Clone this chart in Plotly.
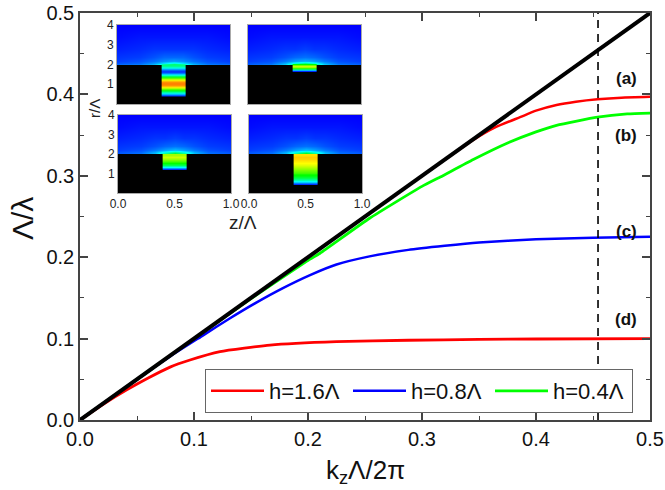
import plotly.graph_objects as go

light_k = [0.0, 0.5]
light_f = [0.0, 0.5]
a_k = [0.30, 0.345, 0.365, 0.386, 0.40, 0.418, 0.435, 0.454, 0.475, 0.5]
a_f = [0.30, 0.344, 0.360, 0.372, 0.380, 0.387, 0.391, 0.394, 0.396, 0.397]
b_k = [0.0, 0.05, 0.10, 0.15, 0.20, 0.2105, 0.254, 0.30, 0.316, 0.345, 0.3746, 0.40, 0.418, 0.454, 0.48, 0.5]
b_f = [0.0, 0.05, 0.10, 0.149, 0.196, 0.2048, 0.2478, 0.287, 0.2985, 0.32, 0.340, 0.354, 0.362, 0.372, 0.376, 0.377]
c_k = [0.0, 0.05, 0.08, 0.108, 0.1316, 0.155, 0.178, 0.2018, 0.225, 0.254, 0.288, 0.32, 0.35, 0.40, 0.45, 0.5]
c_f = [0.0, 0.05, 0.079, 0.104, 0.125, 0.1445, 0.162, 0.178, 0.191, 0.201, 0.209, 0.214, 0.218, 0.222, 0.224, 0.225]
d_k = [0.0, 0.02, 0.041, 0.059, 0.079, 0.0965, 0.1228, 0.1667, 0.225, 0.288, 0.35, 0.40, 0.5]
d_f = [0.0, 0.019, 0.037, 0.051, 0.065, 0.0737, 0.084, 0.092, 0.0962, 0.098, 0.099, 0.0995, 0.1]
marker_k = [0.4544, 0.4544]
marker_f = [0.0, 0.5]
legend_names = ["h=1.6Λ", "h=0.8Λ", "h=0.4Λ"]
curve_labels = ["(a)", "(b)", "(c)", "(d)"]
label_k = [0.479, 0.479, 0.479, 0.479]
label_f = [0.42, 0.349, 0.232, 0.123]

x_ticks = [0.0, 0.1, 0.2, 0.3, 0.4, 0.5]
x_ticktext = ["0.0", "0.1", "0.2", "0.3", "0.4", "0.5"]
minor_ticks = [0.05, 0.15, 0.25, 0.35, 0.45]

air_r = [2.02, 2.08, 2.2, 2.4, 2.8, 3.4, 4.0]
air_z = [0.0, 0.2, 0.33, 0.42, 0.5, 0.58, 0.67, 0.8, 1.0]
air_a = [
    [0.10, 0.12, 0.18, 0.30, 0.40, 0.30, 0.18, 0.12, 0.10],
    [0.08, 0.10, 0.15, 0.22, 0.28, 0.22, 0.15, 0.10, 0.08],
    [0.06, 0.08, 0.11, 0.14, 0.16, 0.14, 0.11, 0.08, 0.06],
    [0.05, 0.06, 0.08, 0.10, 0.10, 0.10, 0.08, 0.06, 0.05],
    [0.03, 0.04, 0.05, 0.05, 0.05, 0.05, 0.05, 0.04, 0.03],
    [0.01, 0.02, 0.02, 0.02, 0.02, 0.02, 0.02, 0.02, 0.01],
    [0.00, 0.00, 0.00, 0.00, 0.00, 0.00, 0.00, 0.00, 0.00],
]
air_b = [
    [0.09, 0.12, 0.20, 0.36, 0.50, 0.36, 0.20, 0.12, 0.09],
    [0.08, 0.10, 0.17, 0.28, 0.36, 0.28, 0.17, 0.10, 0.08],
    [0.06, 0.08, 0.12, 0.16, 0.18, 0.16, 0.12, 0.08, 0.06],
    [0.05, 0.06, 0.08, 0.10, 0.11, 0.10, 0.08, 0.06, 0.05],
    [0.03, 0.04, 0.05, 0.05, 0.06, 0.05, 0.05, 0.04, 0.03],
    [0.01, 0.02, 0.02, 0.02, 0.02, 0.02, 0.02, 0.02, 0.01],
    [0.00, 0.00, 0.00, 0.00, 0.00, 0.00, 0.00, 0.00, 0.00],
]
air_c = [
    [0.09, 0.12, 0.20, 0.38, 0.52, 0.38, 0.20, 0.12, 0.09],
    [0.08, 0.10, 0.17, 0.28, 0.36, 0.28, 0.17, 0.10, 0.08],
    [0.06, 0.08, 0.12, 0.16, 0.19, 0.16, 0.12, 0.08, 0.06],
    [0.05, 0.06, 0.08, 0.10, 0.11, 0.10, 0.08, 0.06, 0.05],
    [0.03, 0.04, 0.05, 0.05, 0.06, 0.05, 0.05, 0.04, 0.03],
    [0.01, 0.02, 0.02, 0.02, 0.02, 0.02, 0.02, 0.02, 0.01],
    [0.00, 0.00, 0.00, 0.00, 0.00, 0.00, 0.00, 0.00, 0.00],
]
air_d = [
    [0.09, 0.12, 0.20, 0.38, 0.55, 0.38, 0.20, 0.12, 0.09],
    [0.08, 0.10, 0.17, 0.28, 0.36, 0.28, 0.17, 0.10, 0.08],
    [0.06, 0.08, 0.12, 0.16, 0.19, 0.16, 0.12, 0.08, 0.06],
    [0.05, 0.06, 0.08, 0.10, 0.11, 0.10, 0.08, 0.06, 0.05],
    [0.03, 0.04, 0.05, 0.05, 0.06, 0.05, 0.05, 0.04, 0.03],
    [0.01, 0.02, 0.02, 0.02, 0.02, 0.02, 0.02, 0.02, 0.01],
    [0.00, 0.00, 0.00, 0.00, 0.00, 0.00, 0.00, 0.00, 0.00],
]
groove_z = [0.43, 0.5, 0.57]
groove_a_r = [0.45, 0.55, 0.65, 0.75, 0.85, 0.95, 1.05, 1.15, 1.25, 1.35, 1.45, 1.55, 1.65, 1.75, 1.85, 1.95]
groove_a_v = [0.05, 0.22, 0.38, 0.55, 0.72, 0.85, 0.88, 0.85, 0.72, 0.55, 0.35, 0.15, 0.04, 0.12, 0.28, 0.38]
groove_b_r = [1.65, 1.7, 1.75, 1.8, 1.85, 1.9, 1.95, 2.0]
groove_b_v = [0.03, 0.18, 0.40, 0.55, 0.65, 0.70, 0.62, 0.50]
groove_c_r = [1.25, 1.35, 1.45, 1.55, 1.65, 1.75, 1.85, 1.95]
groove_c_v = [0.05, 0.25, 0.42, 0.50, 0.58, 0.65, 0.70, 0.66]
groove_d_r = [0.45, 0.55, 0.65, 0.75, 0.85, 0.95, 1.05, 1.15, 1.25, 1.35, 1.45, 1.55, 1.65, 1.75, 1.85, 1.95]
groove_d_v = [0.05, 0.20, 0.33, 0.42, 0.48, 0.52, 0.56, 0.60, 0.64, 0.68, 0.72, 0.75, 0.77, 0.79, 0.80, 0.78]

FONT = "Liberation Sans"
W, H = 665, 490
L, R, T, B = 80, 650, 13, 420
AX = "#444444"
SCALE = [[0, "#0000ff"], [0.25, "#00ffff"], [0.5, "#00ff00"], [0.75, "#ffff00"], [1, "#ff0000"]]

fig = go.Figure()

def line(x, y, c, w, **kw):
    return go.Scatter(x=x, y=y, mode="lines", line=dict(color=c, width=w, shape="spline", smoothing=0.5),
                      hoverinfo="skip", **kw)

fig.add_trace(line(a_k, a_f, "#ff0000", 2.5, name=legend_names[0], showlegend=True))
fig.add_trace(line(c_k, c_f, "#0000ff", 2.5, name=legend_names[1], showlegend=True))
fig.add_trace(line(b_k, b_f, "#00ff00", 2.8, name=legend_names[2], showlegend=True))
fig.add_trace(line(d_k, d_f, "#ff0000", 2.8, showlegend=False))
fig.add_trace(line(light_k, light_f, "#000000", 4, showlegend=False))
fig.add_trace(go.Scatter(x=marker_k, y=marker_f, mode="lines", showlegend=False, hoverinfo="skip",
                         line=dict(color="#000000", width=1.6, dash="8px,6px")))

panels = [
    (air_a, groove_a_r, groove_a_v, (117, 230), (25, 104), False, True),
    (air_b, groove_b_r, groove_b_v, (248, 361), (25, 104), False, False),
    (air_c, groove_c_r, groove_c_v, (118, 231), (115, 193), True, True),
    (air_d, groove_d_r, groove_d_v, (249, 362), (115, 193), True, False),
]
layout_axes = {}
shapes = []
for i, (air, gr, gv, xp, yp, show_x, show_y) in enumerate(panels):
    n = i + 2
    xa, ya = f"x{n}", f"y{n}"
    shapes.append(dict(type="rect", xref=xa, yref=ya, x0=0, x1=1, y0=0, y1=2.02, fillcolor="#000000",
                       line=dict(width=0), layer="below"))
    fig.add_trace(go.Heatmap(x=air_z, y=air_r, z=air, xaxis=xa, yaxis=ya, colorscale=SCALE, zmin=0, zmax=1,
                             zsmooth="best", showscale=False, hoverinfo="skip"))
    fig.add_trace(go.Heatmap(x=groove_z, y=gr, z=[[v, v, v] for v in gv], xaxis=xa, yaxis=ya, colorscale=SCALE,
                             zmin=0, zmax=1, zsmooth="best", showscale=False, hoverinfo="skip"))
    layout_axes[f"xaxis{n}"] = dict(
        domain=[xp[0] / W, xp[1] / W], anchor=ya, range=[0, 1], tickvals=[0, 0.5, 1], automargin=False,
        ticktext=["0.0", "0.5", "1.0"], showticklabels=show_x, ticks="", showgrid=False, zeroline=False,
        showline=True, mirror=True, linecolor="#aaaaaa", linewidth=1, tickfont=dict(family=FONT, size=12, color="#222222"))
    layout_axes[f"yaxis{n}"] = dict(
        domain=[1 - yp[1] / H, 1 - yp[0] / H], anchor=xa, range=[0, 4], tickvals=[1, 2, 3, 4], automargin=False,
        showticklabels=show_y, ticks="", showgrid=False, zeroline=False, showline=True, mirror=True,
        linecolor="#aaaaaa", linewidth=1, tickfont=dict(family=FONT, size=12, color="#222222"))

annotations = [dict(x=x, y=y, xref="x", yref="y", text=f"<b>{t}</b>", showarrow=False,
                    font=dict(family=FONT, size=17, color="#111111"))
               for t, x, y in zip(curve_labels, label_k, label_f)]
annotations += [
    dict(x=243 / W, y=1 - 222 / H, xref="paper", yref="paper", text="z/Λ", showarrow=False,
         xanchor="center", yanchor="middle", font=dict(family=FONT, size=19, color="#222222")),
    dict(x=94 / W, y=1 - 109 / H, xref="paper", yref="paper", text="r/Λ", textangle=-90, showarrow=False,
         xanchor="center", yanchor="middle", font=dict(family=FONT, size=15, color="#222222")),
    dict(x=22 / W, y=1 - 218 / H, xref="paper", yref="paper", text="Λ/λ", textangle=-90, showarrow=False,
         xanchor="center", yanchor="middle", font=dict(family=FONT, size=30, color="#111111")),
    dict(x=365 / W, y=1 - 471 / H, xref="paper", yref="paper", text="k<sub>z</sub>Λ/2π", showarrow=False,
         xanchor="center", yanchor="middle", font=dict(family=FONT, size=26, color="#111111")),
]

main_axis = dict(range=[0, 0.5], tickmode="array", tickvals=x_ticks, ticktext=x_ticktext, ticks="inside", ticklen=8,
                 tickwidth=1.5, tickcolor=AX, showline=True, linecolor=AX, linewidth=1.5, mirror="ticks",
                 showgrid=False, zeroline=False, automargin=False, tickfont=dict(family=FONT, size=20))

# Extra axes over the main pair carry the short ticks.
short_axis = dict(range=[0, 0.5], tickmode="array", tickvals=minor_ticks, ticks="inside", ticklen=4, tickwidth=1.2,
                  tickcolor=AX, showticklabels=False, showline=True, linecolor=AX, linewidth=1.5, mirror="ticks",
                  showgrid=False, zeroline=False, automargin=False)
fig.add_trace(go.Scatter(x=[0.25], y=[0.25], xaxis="x6", yaxis="y6", mode="markers", marker=dict(opacity=0),
                         showlegend=False, hoverinfo="skip"))

fig.update_layout(
    width=W, height=H, margin=dict(l=0, r=0, t=0, b=0, pad=0, autoexpand=False),
    paper_bgcolor="white", plot_bgcolor="rgba(0,0,0,0)", font=dict(family=FONT, color="#111111"),
    xaxis=dict(domain=[L / W, R / W], **main_axis),
    yaxis=dict(domain=[1 - B / H, 1 - T / H], **main_axis),
    xaxis6=dict(domain=[L / W, R / W], anchor="y6", **short_axis),
    yaxis6=dict(domain=[1 - B / H, 1 - T / H], anchor="x6", **short_axis),
    legend=dict(orientation="h", x=205 / W, y=1 - 369 / H, xref="paper", yref="paper", xanchor="left", yanchor="top",
                bgcolor="white", bordercolor="#666666", borderwidth=1, itemwidth=53, entrywidth=74, entrywidthmode="pixels",
                font=dict(family=FONT, size=22)),
    annotations=annotations,
    shapes=shapes,
    **layout_axes,
)
fig.write_html("out.html", post_script="document.body.style.margin='0';", config=dict(displayModeBar=False))
